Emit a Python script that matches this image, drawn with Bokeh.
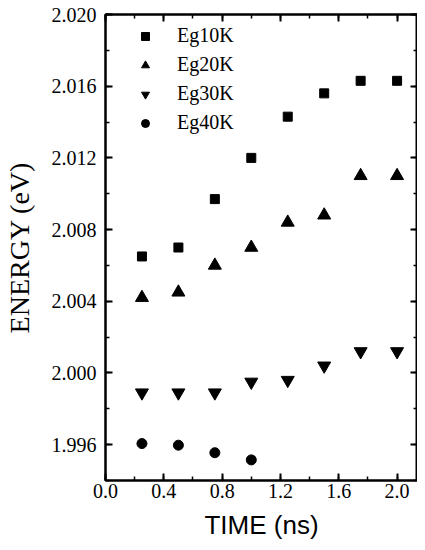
from bokeh.plotting import figure
from bokeh.models import (Range1d, LinearAxis, SingleIntervalTicker, PrintfTickFormatter,
                          CustomJSTickFormatter, Legend, LegendItem)
from bokeh.embed import file_html
from bokeh.resources import INLINE

time_ns = [0.25, 0.5, 0.75, 1.0, 1.25, 1.5, 1.75, 2.0]
eg10k = [2.0065, 2.0070, 2.0097, 2.0120, 2.0143, 2.0156, 2.0163, 2.0163]
eg20k = [2.0042, 2.0045, 2.0060, 2.0070, 2.0084, 2.0088, 2.0110, 2.0110]
eg30k = [1.9989, 1.9989, 1.9989, 1.9995, 1.9996, 2.0004, 2.0012, 2.0012]
time_40k = [0.25, 0.5, 0.75, 1.0]
eg40k = [1.99606, 1.99597, 1.99555, 1.99515]
series_names = ["Eg10K", "Eg20K", "Eg30K", "Eg40K"]

SERIF = "Liberation Serif"
SANS = "Liberation Sans"

p = figure(width=417, height=542, output_backend="svg", toolbar_location=None,
           x_range=Range1d(0, 2.14), y_range=Range1d(1.994, 2.020),
           min_border_left=104, min_border_top=14, min_border_right=0, min_border_bottom=58)
p.xgrid.visible = False
p.ygrid.visible = False
p.outline_line_color = "black"
p.outline_line_width = 2
p.background_fill_color = "white"
p.border_fill_color = "white"


def style(ax, labels=True):
    ax.axis_line_width = 2
    ax.axis_line_color = "black"
    ax.major_tick_in = 7
    ax.major_tick_out = 0
    ax.minor_tick_in = 4
    ax.minor_tick_out = 0
    ax.major_tick_line_width = 2
    ax.minor_tick_line_width = 1.5
    ax.major_tick_line_color = "black"
    ax.minor_tick_line_color = "black"
    ax.major_label_text_font = SERIF
    ax.major_label_text_font_size = "20px"
    ax.major_label_text_color = "black"
    if not labels:
        ax.formatter = CustomJSTickFormatter(code="return ''")
        ax.major_label_standoff = 0


p.xaxis.ticker = SingleIntervalTicker(interval=0.4, num_minor_ticks=2)
p.xaxis.formatter = PrintfTickFormatter(format="%.1f")
p.yaxis.ticker = SingleIntervalTicker(interval=0.004, num_minor_ticks=2)
p.yaxis.formatter = PrintfTickFormatter(format="%.3f")
style(p.xaxis[0])
style(p.yaxis[0])
p.xaxis.major_label_standoff = 3
p.yaxis.major_label_standoff = 9
p.xaxis.axis_label = "TIME (ns)"
p.xaxis.axis_label_text_font = SANS
p.xaxis.axis_label_text_font_size = "26px"
p.xaxis.axis_label_text_font_style = "normal"
p.xaxis.axis_label_text_color = "black"
p.xaxis.axis_label_standoff = 9
p.yaxis.axis_label = "ENERGY (eV)"
p.yaxis.axis_label_text_font = SERIF
p.yaxis.axis_label_text_font_size = "28px"
p.yaxis.axis_label_text_font_style = "normal"
p.yaxis.axis_label_text_color = "black"
p.yaxis.axis_label_standoff = 14

top_ax = LinearAxis(ticker=SingleIntervalTicker(interval=0.4, num_minor_ticks=2))
right_ax = LinearAxis(ticker=SingleIntervalTicker(interval=0.004, num_minor_ticks=2))
style(top_ax, labels=False)
style(right_ax, labels=False)
p.add_layout(top_ax, "above")
p.add_layout(right_ax, "right")

r1 = p.scatter(time_ns, eg10k, marker="square", size=9, color="black")
r2 = p.scatter(time_ns, eg20k, marker="triangle", size=13, color="black")
r3 = p.scatter(time_ns, eg30k, marker="inverted_triangle", size=13, color="black")
r4 = p.scatter(time_40k, eg40k, marker="circle", size=10, color="black")

legend = Legend(items=[LegendItem(label=series_names[0], renderers=[r1]),
                       LegendItem(label=series_names[1], renderers=[r2]),
                       LegendItem(label=series_names[2], renderers=[r3]),
                       LegendItem(label=series_names[3], renderers=[r4])],
                location="top_left", margin=10, padding=8, spacing=6,
                glyph_width=60, glyph_height=20, label_height=20, label_standoff=2,
                label_text_font=SERIF, label_text_font_size="20px", label_text_color="black",
                border_line_color=None, background_fill_alpha=0)
p.add_layout(legend, "center")

open("out.html", "w").write(file_html(p, INLINE))
